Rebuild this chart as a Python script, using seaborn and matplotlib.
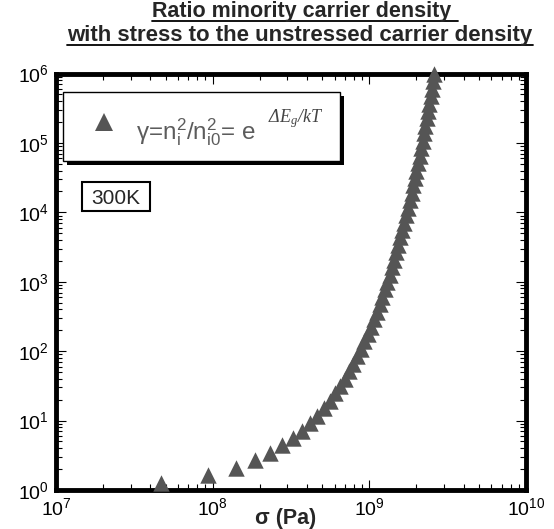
import matplotlib
matplotlib.use('Agg')
import numpy as np
import pandas as pd
import matplotlib.pyplot as plt
import seaborn as sns
from matplotlib.lines import Line2D
from matplotlib.patches import Rectangle
from matplotlib.ticker import LogLocator, NullFormatter

# ---- data ----
sigma_pa = [4.7e7, 9.3e7, 1.40e8, 1.86e8, 2.33e8, 2.79e8, 3.26e8, 3.72e8, 4.19e8, 4.65e8,
            5.12e8, 5.58e8, 6.05e8, 6.51e8, 6.98e8, 7.44e8, 7.91e8, 8.37e8, 8.84e8, 9.30e8,
            9.77e8, 1.023e9, 1.070e9, 1.116e9, 1.163e9, 1.209e9, 1.256e9, 1.302e9, 1.349e9, 1.395e9,
            1.442e9, 1.488e9, 1.535e9, 1.581e9, 1.628e9, 1.674e9, 1.721e9, 1.767e9, 1.814e9, 1.860e9,
            1.907e9, 1.953e9, 2.000e9, 2.046e9, 2.093e9, 2.139e9, 2.186e9, 2.232e9, 2.279e9, 2.325e9,
            2.372e9, 2.418e9, 2.465e9, 2.511e9, 2.558e9, 2.604e9]
gamma = [1.28, 1.64, 2.09, 2.68, 3.43, 4.39, 5.61, 7.18, 9.19, 11.8,
         15.0, 19.2, 24.6, 31.5, 40.3, 51.5, 65.9, 84.5, 108, 138,
         177, 226, 290, 371, 474, 607, 776, 993, 1270, 1626,
         2080, 2660, 3400, 4360, 5570, 7130, 9120, 11700, 14900, 19100,
         24400, 31300, 40000, 51200, 65500, 83800, 1.07e5, 1.37e5, 1.75e5, 2.25e5,
         2.88e5, 3.68e5, 4.71e5, 6.03e5, 7.71e5, 9.86e5]

title_lines = ['Ratio minority carrier density ', 'with stress to the unstressed carrier density']
x_label = 'σ (Pa)'
legend_label = 'γ=n$_{i}^{2}$/n$_{i0}^{2}$= e'
legend_exponent = 'ΔE$_g$/kT'
temp_label = '300K'

sns.set_style('ticks')
plt.rcParams['font.family'] = ['Liberation Sans', 'DejaVu Sans']
plt.rcParams['mathtext.fontset'] = 'custom'
plt.rcParams['mathtext.rm'] = 'Liberation Sans'
plt.rcParams['mathtext.it'] = 'Liberation Sans:italic'
plt.rcParams['mathtext.bf'] = 'Liberation Sans:bold'
plt.rcParams['mathtext.default'] = 'regular'

W, H = 554, 529
fig = plt.figure(figsize=(W / 100, H / 100), dpi=100)
ax_l, ax_r, ax_t, ax_b = 56, 526, 73.5, 490
ax = fig.add_axes([ax_l / W, (H - ax_b) / H, (ax_r - ax_l) / W, (ax_b - ax_t) / H])

df = pd.DataFrame({'sigma': sigma_pa, 'gamma': gamma})
sns.scatterplot(data=df, x='sigma', y='gamma', marker='^', s=140, color='#555555',
                linewidth=0, ax=ax, legend=False, zorder=3, clip_on=False)
ax.set_xscale('log')
ax.set_yscale('log')
ax.set_xlim(1e7, 1e10)
ax.set_ylim(1, 1e6)

for axis in (ax.xaxis, ax.yaxis):
    axis.set_major_locator(LogLocator(base=10, numticks=100))
    axis.set_minor_locator(LogLocator(base=10, subs=np.arange(2, 10), numticks=100))
    axis.set_minor_formatter(NullFormatter())

ax.tick_params(which='both', direction='in', top=True, right=True, width=0.8, colors='black')
ax.tick_params(which='major', length=7, labelsize=14, pad=5)
ax.tick_params(which='minor', length=4.5)
for s in ax.spines.values():
    s.set_linewidth(3.5)
    s.set_color('black')

ax.set_xlabel(x_label, fontsize=15.5, fontweight='bold')
ax.xaxis.set_label_coords((286 - ax_l) / (ax_r - ax_l), -0.043)
ax.set_ylabel('')
ax.yaxis.label.set_visible(False)

def ax_x(px):
    return (px - ax_l) / (ax_r - ax_l)

def ax_y(py):
    return (ax_b - py) / (ax_b - ax_t)

# legend box with shadow
bx0, bx1, by0, by1 = 63, 340, 92, 161
sh = 4
ax.add_patch(Rectangle((ax_x(bx0 + sh), ax_y(by1 + sh)), ax_x(bx1) - ax_x(bx0), ax_y(by0) - ax_y(by1),
                       transform=ax.transAxes, fc='black', ec='none', zorder=4, clip_on=False))
ax.add_patch(Rectangle((ax_x(bx0), ax_y(by1)), ax_x(bx1) - ax_x(bx0), ax_y(by0) - ax_y(by1),
                       transform=ax.transAxes, fc='white', ec='black', lw=1.0, zorder=5, clip_on=False))
ax.plot([ax_x(104)], [ax_y(122)], marker='^', ms=12.5, color='#555555', mew=0,
        transform=ax.transAxes, zorder=6, clip_on=False)
ax.text(ax_x(136), ax_y(139), legend_label, transform=ax.transAxes, fontsize=17.5,
        color='#5c5c5c', va='baseline', ha='left', zorder=6)
ax.text(ax_x(268), ax_y(122), legend_exponent, transform=ax.transAxes, fontsize=13,
        family=['Liberation Serif', 'DejaVu Serif'], style='italic',
        color='#444444', va='baseline', ha='left', zorder=6)

# 300K box
ax.add_patch(Rectangle((ax_x(82), ax_y(211)), ax_x(150) - ax_x(82), ax_y(182) - ax_y(211),
                       transform=ax.transAxes, fc='white', ec='black', lw=1.5, zorder=5))
ax.text(ax_x(116), ax_y(204), temp_label, transform=ax.transAxes, fontsize=15,
        ha='center', va='baseline', zorder=6)

# titles with underline
t1 = fig.text(305 / W, 1 - 17.5 / H, title_lines[0], ha='center', va='baseline',
              fontsize=15.5, fontweight='bold')
t2 = fig.text(300 / W, 1 - 41.5 / H, title_lines[1], ha='center', va='baseline',
              fontsize=16, fontweight='bold')
fig.canvas.draw()
r = fig.canvas.get_renderer()
for t, ypx in [(t1, 20.5), (t2, 44.5)]:
    bb = t.get_window_extent(r)
    fig.add_artist(Line2D([bb.x0 / W, bb.x1 / W], [1 - ypx / H] * 2, color='black',
                          lw=1.3, transform=fig.transFigure))

fig.savefig('out.png', dpi=100)
